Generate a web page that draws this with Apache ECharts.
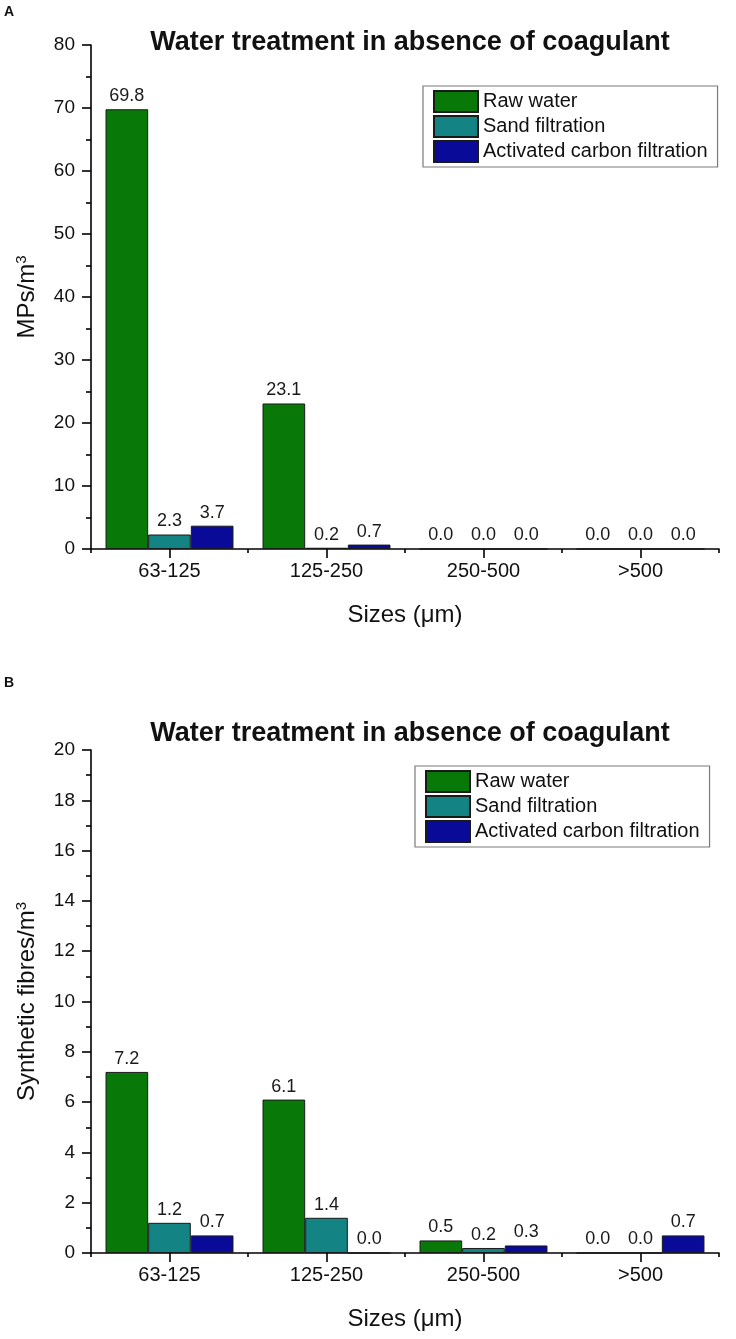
<!DOCTYPE html>
<html>
<head>
<meta charset="utf-8">
<script src="https://cdn.jsdelivr.net/npm/echarts@6/dist/echarts.min.js"></script>
<style>
  html, body { margin: 0; padding: 0; background: #fff; }
  #chart { width: 736px; height: 1339px; }
</style>
</head>
<body>
<div id="chart"></div>
<script>
// ---- data ----
var categories = ['63-125', '125-250', '250-500', '>500'];
var seriesNames = ['Raw water', 'Sand filtration', 'Activated carbon filtration'];
var mpsRaw = [69.8, 23.1, 0.0, 0.0];
var mpsSand = [2.3, 0.2, 0.0, 0.0];
var mpsCarbon = [3.7, 0.7, 0.0, 0.0];
var fibRaw = [7.2, 6.1, 0.5, 0.0];
var fibSand = [1.2, 1.4, 0.2, 0.0];
var fibCarbon = [0.7, 0.0, 0.3, 0.7];
var titleText = 'Water treatment in absence of coagulant';
var xName = 'Sizes (\u03bcm)';

var FONT = '"Liberation Sans", Arial, Helvetica, sans-serif';
var colors = ['#087808', '#138383', '#0a0a98'];

var chart = echarts.init(document.getElementById('chart'), null, { renderer: 'canvas' });

function makeSeries(name, data, idx, axisIdx) {
  return {
    type: 'bar',
    name: name,
    data: data,
    xAxisIndex: axisIdx * 2,
    yAxisIndex: axisIdx,
    barGap: '0%',
    barCategoryGap: '18.5%',
    itemStyle: { color: colors[idx], borderColor: '#1a1a1a', borderWidth: 1 },
    label: {
      show: true, position: 'top', distance: 4,
      fontFamily: FONT, fontSize: 18, color: '#1a1a1a',
      formatter: function (p) { return p.value.toFixed(1); }
    }
  };
}

function xAxes(gridIndex) {
  return [
    {
      type: 'category', gridIndex: gridIndex, data: categories, position: 'bottom',
      axisLine: { show: true, lineStyle: { color: '#000', width: 1.6 } },
      axisTick: { show: true, alignWithLabel: false, length: 4, lineStyle: { color: '#000', width: 1.6 } },
      axisLabel: { fontFamily: FONT, fontSize: 20, color: '#111', margin: 12 },
      name: xName, nameLocation: 'middle', nameGap: 54,
      nameTextStyle: { fontFamily: FONT, fontSize: 24, color: '#111' }
    },
    {
      type: 'category', gridIndex: gridIndex, data: categories, position: 'bottom',
      axisLine: { show: false },
      axisTick: { show: true, alignWithLabel: true, length: 9, lineStyle: { color: '#000', width: 1.6 } },
      axisLabel: { show: false }
    }
  ];
}

function yAxis(gridIndex, max, interval, nameRich) {
  return {
    type: 'value', gridIndex: gridIndex, min: 0, max: max, interval: interval,
    axisLine: { show: true, lineStyle: { color: '#000', width: 1.6 } },
    axisTick: { show: true, length: 9, lineStyle: { color: '#000', width: 1.6 } },
    minorTick: { show: true, splitNumber: 2, length: 5, lineStyle: { color: '#000', width: 1.6 } },
    splitLine: { show: false },
    axisLabel: { fontFamily: FONT, fontSize: 19, color: '#111', margin: 16 },
    name: nameRich, nameLocation: 'middle', nameGap: 50,
    nameTextStyle: {
      fontFamily: FONT, fontSize: 24, color: '#111',
      rich: { sup: { fontFamily: FONT, fontSize: 15, color: '#111', verticalAlign: 'top', padding: [0, 0, 12, 0] } }
    }
  };
}

function legend(left, top) {
  return {
    data: seriesNames.map(function (n) { return { name: n, icon: 'rect' }; }),
    orient: 'vertical', left: left, top: top,
    itemWidth: 44, itemHeight: 21, itemGap: 2,
    padding: [4, 10, 4, 10],
    borderColor: '#7a7a7a', borderWidth: 1.2,
    selectedMode: false,
    textStyle: { fontFamily: FONT, fontSize: 20, color: '#111' }
  };
}

var option = {
  backgroundColor: '#fff',
  animation: false,
  title: [
    { text: 'A', left: 4, top: 5, padding: 0, textStyle: { fontFamily: FONT, fontSize: 14, fontWeight: 'bold', color: '#111' } },
    { text: titleText, left: 410, top: 29, padding: 0, textAlign: 'center',
      textStyle: { fontFamily: FONT, fontSize: 27, fontWeight: 'bold', color: '#111' } },
    { text: 'B', left: 4, top: 676, padding: 0, textStyle: { fontFamily: FONT, fontSize: 14, fontWeight: 'bold', color: '#111' } },
    { text: titleText, left: 410, top: 720, padding: 0, textAlign: 'center',
      textStyle: { fontFamily: FONT, fontSize: 27, fontWeight: 'bold', color: '#111' } }
  ],
  legend: [legend(423, 86), legend(415, 766)],
  grid: [
    { left: 91, right: 17, top: 45, height: 504 },
    { left: 91, right: 17, top: 750, height: 503 }
  ],
  xAxis: xAxes(0).concat(xAxes(1)),
  yAxis: [
    yAxis(0, 80, 10, 'MPs/m{sup|3}'),
    yAxis(1, 20, 2, 'Synthetic fibres/m{sup|3}')
  ],
  series: [
    makeSeries(seriesNames[0], mpsRaw, 0, 0),
    makeSeries(seriesNames[1], mpsSand, 1, 0),
    makeSeries(seriesNames[2], mpsCarbon, 2, 0),
    makeSeries(seriesNames[0], fibRaw, 0, 1),
    makeSeries(seriesNames[1], fibSand, 1, 1),
    makeSeries(seriesNames[2], fibCarbon, 2, 1)
  ]
};
chart.setOption(option);
</script>
</body>
</html>
